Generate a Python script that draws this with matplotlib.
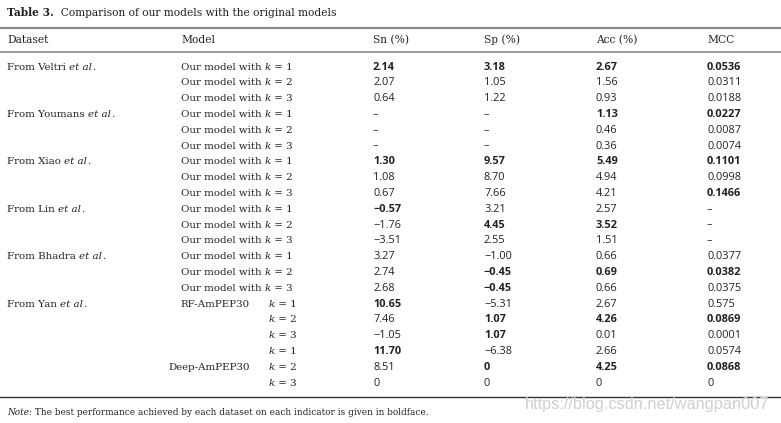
import matplotlib
matplotlib.use("Agg")
import matplotlib.pyplot as plt
from matplotlib.lines import Line2D

# ===============================
# DADOS DA TABELA
# ===============================

datasets = ["Veltri", "Youmans", "Xiao", "Lin", "Bhadra", "Yan"]
k_vals = ["1", "2", "3", "1", "2", "3"]
columns = ["Sn (%)", "Sp (%)", "Acc (%)", "MCC"]

sn = ["2.14", "2.07", "0.64", "–", "–", "–", "1.30", "1.08", "0.67",
      "−0.57", "−1.76", "−3.51", "3.27", "2.74", "2.68",
      "10.65", "7.46", "−1.05", "11.70", "8.51", "0"]
sp = ["3.18", "1.05", "1.22", "–", "–", "–", "9.57", "8.70", "7.66",
      "3.21", "4.45", "2.55", "−1.00", "−0.45", "−0.45",
      "−5.31", "1.07", "1.07", "−6.38", "0", "0"]
acc = ["2.67", "1.56", "0.93", "1.13", "0.46", "0.36", "5.49", "4.94", "4.21",
       "2.57", "3.52", "1.51", "0.66", "0.69", "0.66",
       "2.67", "4.26", "0.01", "2.66", "4.25", "0"]
mcc = ["0.0536", "0.0311", "0.0188", "0.0227", "0.0087", "0.0074",
       "0.1101", "0.0998", "0.1466", "–", "–", "–",
       "0.0377", "0.0382", "0.0375",
       "0.575", "0.0869", "0.0001", "0.0574", "0.0868", "0"]

# linhas em negrito (indices)
sn_bold = [0, 6, 9, 15, 18]
sp_bold = [0, 6, 10, 13, 14, 16, 17, 19]
acc_bold = [0, 3, 6, 10, 13, 16, 19]
mcc_bold = [0, 3, 6, 8, 13, 16, 19]

yan_models = ["RF-AmPEP30", "Deep-AmPEP30"]

# ===============================
# FIGURA
# ===============================

W, H = 781, 423
fig = plt.figure(figsize=(W / 100, H / 100), dpi=100)
fig.patch.set_facecolor("white")
renderer = fig.canvas.get_renderer()

SERIF = "DejaVu Serif"
SANS = "Open Sans"
COR = "#222222"
FS = 7.4


def px(x, y):
    return x / W, 1 - y / H


def texto(x, y, s, family=SERIF, style="normal", weight="normal", ha="left",
          size=FS, color=COR):
    fx, fy = px(x, y)
    return fig.text(fx, fy, s, family=family, style=style, weight=weight,
                    ha=ha, va="center", size=size, color=color)


def trechos(x, y, partes, size=FS):
    # desenha pedacos de texto lado a lado (normal / italico / negrito)
    for s, style, weight in partes:
        t = texto(x, y, s, style=style, weight=weight, size=size)
        bb = t.get_window_extent(renderer)
        x += bb.width


def linha(y, cor, lw):
    fy = 1 - y / H
    fig.add_artist(Line2D([0, 1], [fy, fy], color=cor, lw=lw,
                          transform=fig.transFigure))


# titulo
trechos(7, 13, [("Table 3.", "normal", "bold"),
                ("  Comparison of our models with the original models", "normal", "normal")],
        size=7.7)

linha(28, "#8a8a8a", 1.6)
linha(52, "#9a9a9a", 1.4)
linha(397, "#333333", 1.0)

# cabecalho
col_x = [373, 484, 596, 707]
texto(7, 40, "Dataset", size=7.7)
texto(181, 40, "Model", size=7.7)
for cx, nome in zip(col_x, columns):
    texto(cx, 40, nome, size=7.7)

# linhas da tabela
y0, dy = 67, 15.8
row_y = [y0 + i * dy for i in range(len(sn))]

for i, nome in enumerate(datasets):
    trechos(7, row_y[i * 3], [("From " + nome + " ", "normal", "normal"),
                              ("et al", "italic", "normal"),
                              (".", "normal", "normal")])

for i in range(15):
    trechos(181, row_y[i], [("Our model with ", "normal", "normal"),
                            ("k", "italic", "normal"),
                            (" = " + k_vals[i % 3], "normal", "normal")])

for j, i in enumerate(range(15, 21)):
    trechos(269, row_y[i], [("k", "italic", "normal"),
                            (" = " + k_vals[j], "normal", "normal")])
texto(250, row_y[15], yan_models[0], ha="right")
texto(250, row_y[19], yan_models[1], ha="right")

for cx, vals, negrito in zip(col_x, [sn, sp, acc, mcc],
                             [sn_bold, sp_bold, acc_bold, mcc_bold]):
    for i, v in enumerate(vals):
        texto(cx, row_y[i], v, family=SANS,
              weight="bold" if i in negrito else "normal", size=7.9)

# nota
trechos(7, 412, [("Note:", "italic", "normal"),
                 (" The best performance achieved by each dataset on each indicator is given in boldface.",
                  "normal", "normal")], size=6.4)

# marca d'agua
texto(769, 404, "https://blog.csdn.net/wangpan007", family="Liberation Sans",
      ha="right", size=11.8, color="#d0d0d0")

fig.savefig("out.png", dpi=100)
